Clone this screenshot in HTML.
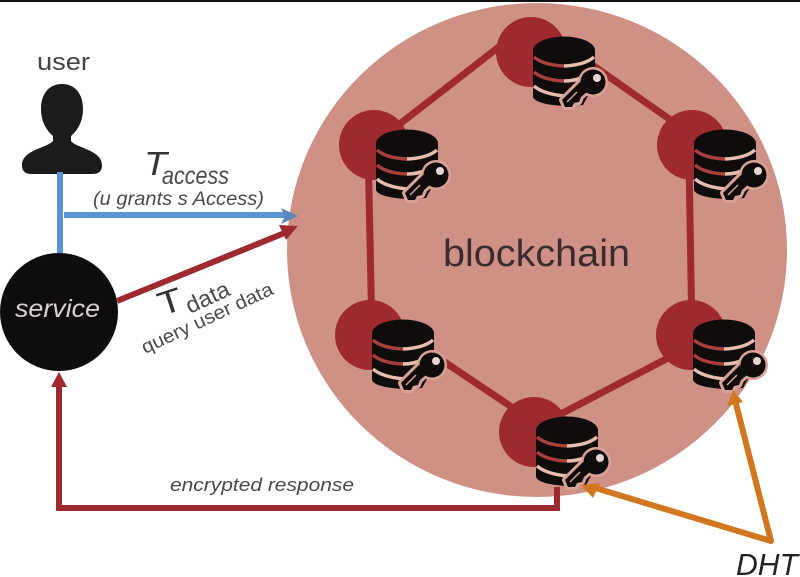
<!DOCTYPE html>
<html>
<head>
<meta charset="utf-8">
<style>
html,body{margin:0;padding:0;background:#fff;}
svg{display:block;}
text{font-family:"Liberation Sans",sans-serif;}
</style>
</head>
<body>
<svg width="800" height="577" viewBox="0 0 800 577" xmlns="http://www.w3.org/2000/svg">
<defs>
<g id="n">
  <circle cx="0" cy="0" r="35" fill="#9e2a2f"/>
  <g transform="translate(2,-15)">
    <path d="M0 13 V60 Q2 67 30 69 L50 68 L62 46 V13 Z" fill="#100c0c"/>
    <ellipse cx="31" cy="13.5" rx="31" ry="14" fill="#100c0c"/>
    <path d="M1 20 Q10 28 31 29" fill="none" stroke="#a8403f" stroke-width="3.5"/>
    <path d="M31 29 Q52 28 61 20" fill="none" stroke="#e6bdb0" stroke-width="3.5"/>
    <path d="M1 35 Q10 43 31 44" fill="none" stroke="#a8403f" stroke-width="3.5"/>
    <path d="M31 44 Q42 44 50 40" fill="none" stroke="#e6bdb0" stroke-width="3.5"/>
    <path d="M1 49 Q10 57 32 59" fill="none" stroke="#e6bdb0" stroke-width="3.5"/>
    <path d="M47 45 L55 54 L48 60 L46 65 L41 66 L39 70 L32 70 L29 63 Z" fill="#100c0c" stroke="#d9a297" stroke-width="6" stroke-linejoin="round"/>
    <circle cx="60" cy="45" r="15" fill="#d9a297"/>
    <path d="M47 45 L55 54 L48 60 L46 65 L41 66 L39 70 L32 70 L29 63 Z" fill="#100c0c"/>
    <path d="M34 65 L44 55" stroke="#d9a297" stroke-width="1.5" fill="none"/>
    <circle cx="60" cy="45" r="12.5" fill="#100c0c"/>
    <circle cx="64" cy="41" r="4" fill="#e8d4d0"/>
  </g>
</g>
</defs>

<rect width="800" height="577" fill="#fff"/>
<rect width="800" height="2" fill="#111"/>

<ellipse cx="537" cy="250" rx="250" ry="247" fill="#cf9186"/>

<g fill="none" stroke="#9e2a2f" stroke-width="7">
  <path d="M531 22 L374 144"/>
  <path d="M531 22 L692 135"/>
  <path d="M689 160 L692 335"/>
  <path d="M691 346 L534 428"/>
  <path d="M534 422 L370 312"/>
  <path d="M372 335 L368 145"/>
</g>

<use href="#n" x="531" y="52"/>
<use href="#n" x="374" y="145"/>
<use href="#n" x="692" y="145"/>
<use href="#n" x="370" y="335"/>
<use href="#n" x="691" y="335"/>
<use href="#n" x="534" y="432"/>

<path d="M62 84 C48 84 41 95 41 109 C41 122 47 131 53 136 V141 C47 148 22 150 22 165 C22 172 26 174 32 174 H92 C98 174 102 172 102 165 C102 150 76 148 71 141 V136 C77 131 83 122 83 109 C83 95 76 84 62 84 Z" fill="#1c1a1a"/>

<path d="M60 172 V253" stroke="#5a94d2" stroke-width="6" fill="none"/>
<path d="M64 215 H288" stroke="#5a94d2" stroke-width="6" fill="none"/>
<path d="M281 208 L298 216 L281 224 L285 216 Z" fill="#5a86bb"/>

<circle cx="59" cy="312" r="59" fill="#0e0c0c"/>

<path d="M117 301 L287 232" stroke="#9e2a2f" stroke-width="6" fill="none"/>
<path d="M298 226 L279 225 L286 240 Z" fill="#9e2a2f"/>

<path d="M59 380 V508 H557 V487" stroke="#9e2a2f" stroke-width="6" fill="none"/>
<path d="M59 372 L51 387 H67 Z" fill="#9e2a2f"/>

<path d="M771 541 L592 487 M771 541 L735 400" stroke="#d1771f" stroke-width="6" fill="none" stroke-linecap="round"/>
<path d="M581 485 L600 483 L593 498 Z" fill="#d1771f"/>
<path d="M733 390 L727 406 L743 402 Z" fill="#d1771f"/>

<text x="37" y="70" font-size="24" fill="#444" textLength="53" lengthAdjust="spacingAndGlyphs">user</text>
<text x="144" y="175" font-size="33" font-style="italic" fill="#333" textLength="23" lengthAdjust="spacingAndGlyphs">T</text>
<text x="162" y="184" font-size="25" font-style="italic" fill="#4a4a4a" textLength="67" lengthAdjust="spacingAndGlyphs">access</text>
<text x="93" y="205" font-size="19" font-style="italic" fill="#4a4a4a" textLength="171" lengthAdjust="spacingAndGlyphs">(u grants s Access)</text>
<text x="15" y="317" font-size="25" font-style="italic" fill="#d8d4d2" textLength="85" lengthAdjust="spacingAndGlyphs">service</text>
<text transform="translate(162,316) rotate(-18)" font-size="33" fill="#333" textLength="24" lengthAdjust="spacingAndGlyphs">T</text>
<text transform="translate(190,314) rotate(-25)" font-size="23" fill="#4a4a4a" textLength="46" lengthAdjust="spacingAndGlyphs">data</text>
<text transform="translate(145,354) rotate(-25)" font-size="19" fill="#4a4a4a" textLength="143" lengthAdjust="spacingAndGlyphs">query user data</text>
<text x="443" y="266" font-size="38" fill="#3a2c2c" textLength="187" lengthAdjust="spacingAndGlyphs">blockchain</text>
<text x="170" y="491" font-size="18" font-style="italic" fill="#4a4a4a" textLength="184" lengthAdjust="spacingAndGlyphs">encrypted response</text>
<text x="736" y="575" font-size="31" font-style="italic" fill="#222" textLength="62" lengthAdjust="spacingAndGlyphs">DHT</text>
</svg>
</body>
</html>
